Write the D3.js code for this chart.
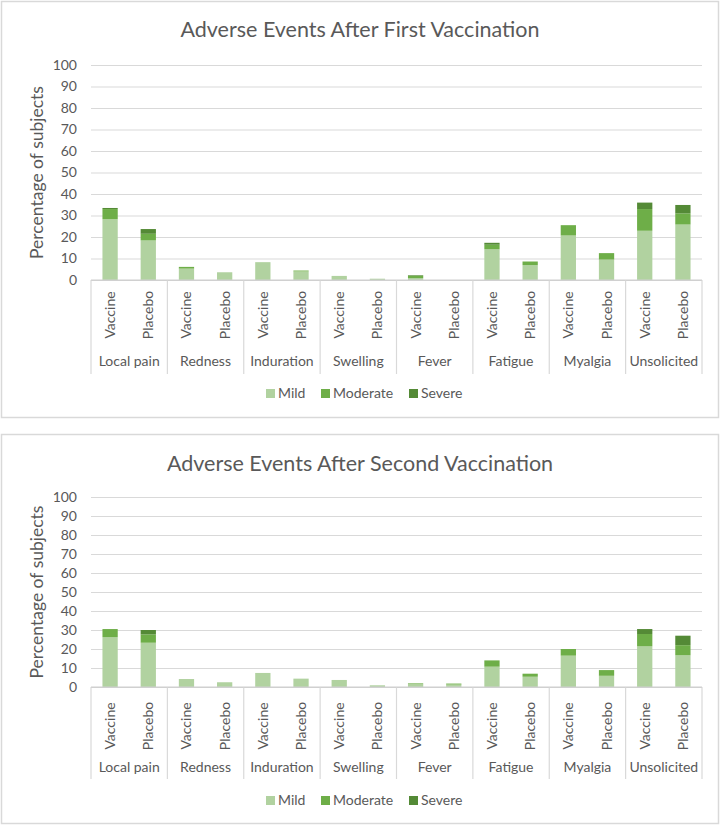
<!DOCTYPE html>
<html><head><meta charset="utf-8">
<script src="https://cdn.jsdelivr.net/npm/d3@7"></script>
<style>body{margin:0;background:#fff;}svg{display:block;font-family:Lato,"Open Sans",sans-serif;}</style>
</head><body>
<svg id="c" width="720" height="826"></svg>
<script>
const categories = ["Local pain","Redness","Induration","Swelling","Fever","Fatigue","Myalgia","Unsolicited"];
const groups = ["Vaccine","Placebo"];
const severities = ["Mild","Moderate","Severe"];
const yTicks = [0,10,20,30,40,50,60,70,80,90,100];
// First vaccination: order per category Vaccine, Placebo
const firstMild     = [28.3,18.4, 5.3,3.6, 8.3,4.0, 1.9,0.6, 0.9,0, 14.3,6.9, 20.7,9.5, 22.9,25.8];
const firstModerate = [4.7,3.1,   0.8,0,   0,0.4,   0,0,     1.0,0, 2.1,1.7,  4.8,3.0,  10.1,5.2];
const firstSevere   = [0.5,2.2,   0,0,     0,0,     0,0,     0.3,0, 0.9,0,    0,0,      3.0,3.9];
// Second vaccination
const secondMild     = [26.2,23.3, 4.2,2.5, 7.4,4.4, 3.7,0.9, 1.5,1.3, 10.7,5.4, 16.5,5.9, 21.4,16.7];
const secondModerate = [4.3,4.4,   0,0,     0,0,     0,0,     0.4,0.5, 3.3,1.6,  3.5,3.0,  6.5,5.3];
const secondSevere   = [0,2.3,     0,0,     0,0,     0,0,     0,0,     0,0,      0,0,      2.6,5.0];

const colors = ["#b1d2a0","#6eae48","#548a36"];
const textCol = "#595959";
const svg = d3.select("#c");

function panel(o){
  const g = svg.append("g");
  g.append("rect").attr("x",o.bx+0.5).attr("y",o.by+0.5).attr("width",o.bw).attr("height",o.bh)
    .attr("fill","#fff").attr("stroke","#d9d9d9").attr("stroke-width",1.5);
  g.append("text").attr("x",360).attr("y",o.titleY).attr("text-anchor","middle")
    .attr("font-size",21.5).attr("fill",textCol).text(o.title);
  const y = d3.scaleLinear().domain([0,100]).range([o.y0,o.y1]);
  const xc = d3.scaleBand().domain(categories).range([91,702]);
  const keys = [];
  categories.forEach(c=>groups.forEach(gr=>keys.push(c+"|"+gr)));
  const xb = d3.scaleBand().domain(keys).range([91,702]).paddingInner(0.6).paddingOuter(0.3);
  // gridlines
  const ya = d3.axisLeft(y).tickValues(yTicks).tickSize(-(702-91)).tickPadding(14);
  const ag = g.append("g").attr("transform","translate(91,0)").call(ya);
  ag.select(".domain").remove();
  ag.selectAll(".tick line").attr("stroke","#d9d9d9").attr("stroke-width",1.2);
  ag.selectAll(".tick text").attr("fill",textCol).attr("font-size",14).attr("font-family","Lato,sans-serif");
  ag.selectAll(".tick").filter(d=>d===0).select("line").attr("stroke","#d0d0d0");
  // y title
  g.append("text").attr("transform",`translate(43,${(o.y0+o.y1)/2}) rotate(-90)`)
    .attr("text-anchor","middle").attr("font-size",17.5).attr("fill",textCol).text("Percentage of subjects");
  // stacked bars
  const rows = keys.map((k,i)=>({key:k,Mild:o.mild[i],Moderate:o.mod[i],Severe:o.sev[i]}));
  const stack = d3.stack().keys(severities)(rows);
  g.selectAll("g.s").data(stack).join("g").attr("class","s").attr("fill",(d,i)=>colors[i])
    .selectAll("rect").data(d=>d.filter(p=>p[1]-p[0]>0)).join("rect")
    .attr("x",d=>xb(d.data.key)).attr("width",xb.bandwidth())
    .attr("y",d=>y(d[1])).attr("height",d=>y(d[0])-y(d[1]));
  // category separators
  const sepX = categories.map(c=>xc(c)).concat([702]);
  g.selectAll("line.sep").data(sepX).join("line").attr("class","sep")
    .attr("x1",d=>d).attr("x2",d=>d).attr("y1",o.y0).attr("y2",o.y0+o.sepLen)
    .attr("stroke","#d9d9d9").attr("stroke-width",1.2);
  g.append("line").attr("x1",91).attr("x2",702).attr("y1",o.y0).attr("y2",o.y0).attr("stroke","#d0d0d0").attr("stroke-width",1.2);
  // group labels
  g.selectAll("text.gl").data(keys).join("text").attr("class","gl")
    .attr("transform",d=>`translate(${xb(d)+xb.bandwidth()/2+5},${o.glY}) rotate(-90)`)
    .attr("text-anchor","middle").attr("font-size",14).attr("fill",textCol)
    .text(d=>d.split("|")[1]);
  g.selectAll("text.cl").data(categories).join("text").attr("class","cl")
    .attr("x",d=>xc(d)+xc.bandwidth()/2).attr("y",o.clY).attr("text-anchor","middle")
    .attr("font-size",14).attr("fill",textCol).text(d=>d);
  // legend
  const lx = [266,321,409];
  const lg = g.selectAll("g.lg").data(severities).join("g").attr("class","lg")
    .attr("transform",(d,i)=>`translate(${lx[i]},${o.legY})`);
  lg.append("rect").attr("x",0).attr("y",-9).attr("width",9).attr("height",9).attr("fill",(d,i)=>colors[i]);
  lg.append("text").attr("x",12).attr("y",0).attr("font-size",14).attr("fill",textCol).text(d=>d);
}

panel({bx:1,by:1,bw:717,bh:416,title:"Adverse Events After First Vaccination",titleY:37,
  y0:280,y1:65,glY:315,clY:366,sepLen:94,legY:398,
  mild:firstMild,mod:firstModerate,sev:firstSevere});
panel({bx:1,by:434,bw:717,bh:389,title:"Adverse Events After Second Vaccination",titleY:471,
  y0:687,y1:497,glY:726,clY:772,sepLen:92,legY:805,
  mild:secondMild,mod:secondModerate,sev:secondSevere});
</script>
</body></html>
